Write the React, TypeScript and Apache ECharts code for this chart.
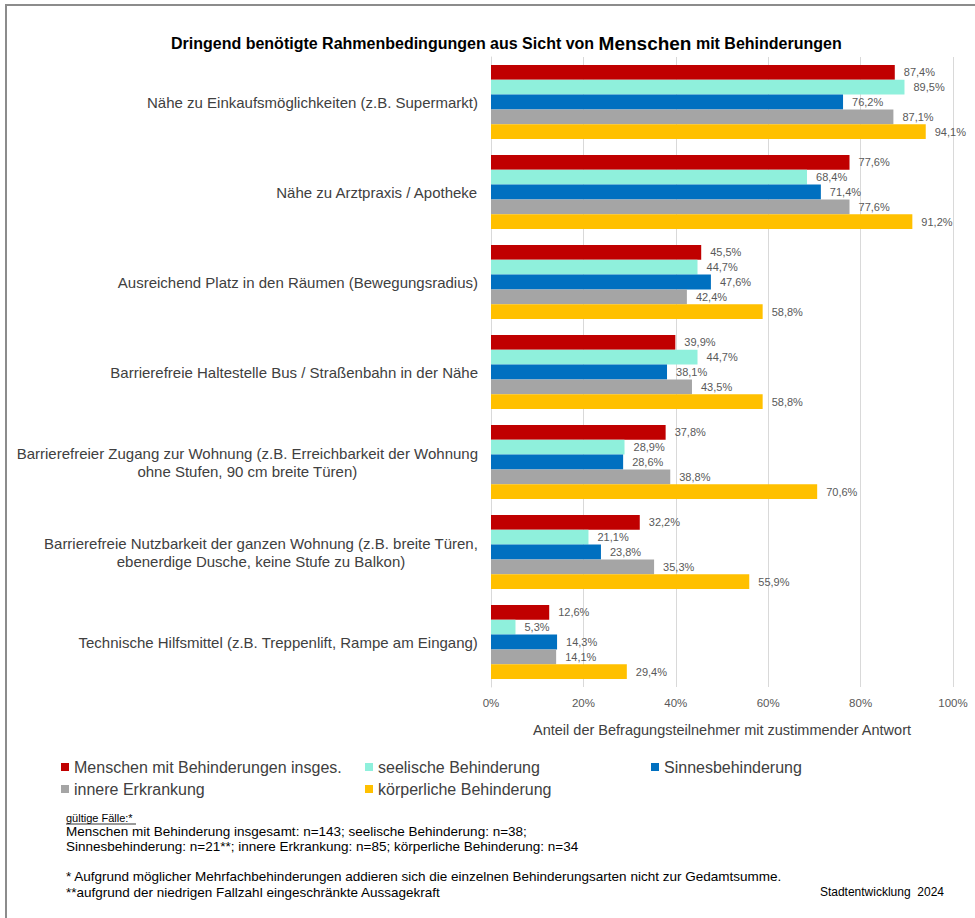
import React, { useEffect, useRef } from "react";
import * as echarts from "echarts";

const categories = [
  "Nähe zu Einkaufsmöglichkeiten (z.B. Supermarkt)",
  "Nähe zu Arztpraxis / Apotheke",
  "Ausreichend Platz in den Räumen (Bewegungsradius)",
  "Barrierefreie Haltestelle Bus / Straßenbahn in der Nähe",
  "Barrierefreier Zugang zur Wohnung (z.B. Erreichbarkeit der Wohnung\nohne Stufen, 90 cm breite Türen)",
  "Barrierefreie Nutzbarkeit der ganzen Wohnung (z.B. breite Türen,\nebenerdige Dusche, keine Stufe zu Balkon)",
  "Technische Hilfsmittel (z.B. Treppenlift, Rampe am Eingang)",
];

const seriesNames = [
  "Menschen mit Behinderungen insges.",
  "seelische Behinderung",
  "Sinnesbehinderung",
  "innere Erkrankung",
  "körperliche Behinderung",
];

const insgesamt = [87.4, 77.6, 45.5, 39.9, 37.8, 32.2, 12.6];
const seelisch = [89.5, 68.4, 44.7, 44.7, 28.9, 21.1, 5.3];
const sinnes = [76.2, 71.4, 47.6, 38.1, 28.6, 23.8, 14.3];
const innere = [87.1, 77.6, 42.4, 43.5, 38.8, 35.3, 14.1];
const koerperlich = [94.1, 91.2, 58.8, 58.8, 70.6, 55.9, 29.4];

const xTicks = [0, 20, 40, 60, 80, 100];

const colors = ["#C00000", "#8FF0DC", "#0070C0", "#A5A5A5", "#FFC000"];

const footLines = [
  "Menschen mit Behinderung insgesamt: n=143; seelische Behinderung: n=38;",
  "Sinnesbehinderung: n=21**; innere Erkrankung: n=85; körperliche Behinderung: n=34",
];
const noteLines = [
  "* Aufgrund möglicher Mehrfachbehinderungen addieren sich die einzelnen Behinderungsarten nicht zur Gedamtsumme.",
  "**aufgrund der niedrigen Fallzahl eingeschränkte Aussagekraft",
];

const FONT = "'Liberation Sans', Arial, sans-serif";

export default function App() {
  const ref = useRef<HTMLDivElement>(null);

  useEffect(() => {
    if (!ref.current) return;
    const chart = echarts.init(ref.current, undefined, { renderer: "svg" });
    const allData = [insgesamt, seelisch, sinnes, innere, koerperlich];

    const fmt = (v: number) => v.toFixed(1).replace(".", ",") + "%";

    const series = seriesNames.map((name, i) => ({
      name,
      type: "bar",
      data: allData[i],
      itemStyle: { color: colors[i] },
      barGap: "0%",
      barCategoryGap: "18%",
      label: {
        show: true,
        position: "right",
        distance: 9,
        color: "#595959",
        fontSize: 11,
        fontFamily: FONT,
        formatter: (p: any) => fmt(p.value),
      },
    }));

    const legendText = { color: "#404040", fontSize: 16, fontFamily: FONT };

    const option: any = {
      animation: false,
      backgroundColor: "#ffffff",
      textStyle: { fontFamily: FONT },
      title: {
        left: 166,
        top: 29,
        text: "{a|Dringend benötigte Rahmenbedingungen aus Sicht von }{b|Menschen}{a| mit Behinderungen}",
        textStyle: {
          rich: {
            a: { fontSize: 16, fontWeight: "bold", color: "#000000", fontFamily: FONT },
            b: { fontSize: 19, fontWeight: "bold", color: "#000000", fontFamily: FONT },
          },
        },
      },
      grid: { left: 491, right: 22, top: 57, bottom: 231, containLabel: false },
      xAxis: {
        type: "value",
        min: 0,
        max: 100,
        interval: 20,
        axisLine: { show: false },
        axisTick: { show: false },
        splitLine: { show: true, lineStyle: { color: "#D9D9D9", width: 1 } },
        axisLabel: {
          color: "#595959",
          fontSize: 11.5,
          margin: 10,
          formatter: (v: number) => (xTicks.includes(v) ? v + "%" : ""),
        },
        name: "Anteil der Befragungsteilnehmer mit zustimmender Antwort",
        nameLocation: "middle",
        nameGap: 35,
        nameTextStyle: { color: "#404040", fontSize: 14.5, fontFamily: FONT },
      },
      yAxis: {
        type: "category",
        data: categories,
        inverse: true,
        axisLine: { show: true, lineStyle: { color: "#D9D9D9" } },
        axisTick: { show: false },
        axisLabel: {
          margin: 13,
          color: "#404040",
          fontSize: 15,
          fontFamily: FONT,
          lineHeight: 18,
          formatter: (v: string) =>
            v
              .split("\n")
              .map((l) => "{c|" + l + "}")
              .join("\n"),
          rich: {
            c: { align: "center", fontSize: 15, color: "#404040", fontFamily: FONT, lineHeight: 18 },
          },
        },
      },
      legend: [
        {
          left: 56,
          top: 754,
          orient: "vertical",
          itemGap: 6,
          itemWidth: 8,
          itemHeight: 8,
          icon: "rect",
          data: [seriesNames[0], seriesNames[3]],
          textStyle: legendText,
        },
        {
          left: 360,
          top: 754,
          orient: "vertical",
          itemGap: 6,
          itemWidth: 8,
          itemHeight: 8,
          icon: "rect",
          data: [seriesNames[1], seriesNames[4]],
          textStyle: legendText,
        },
        {
          left: 646,
          top: 754,
          orient: "vertical",
          itemGap: 6,
          itemWidth: 8,
          itemHeight: 8,
          icon: "rect",
          data: [seriesNames[2]],
          textStyle: legendText,
        },
      ],
      graphic: [
        {
          type: "rect",
          shape: { x: 6, y: 5, width: 1200, height: 1200 },
          style: { fill: "none", stroke: "#8C8C8C", lineWidth: 2 },
          silent: true,
        },
        {
          type: "text",
          x: 66,
          y: 818,
          style: { text: "gültige Fälle:*", fontSize: 11, fill: "#000000", fontFamily: FONT, textVerticalAlign: "middle" },
        },
        {
          type: "line",
          shape: { x1: 66, y1: 824, x2: 136, y2: 824 },
          style: { stroke: "#000000", lineWidth: 0.8 },
        },
        ...footLines.map((t, i) => ({
          type: "text",
          x: 66,
          y: 831 + i * 15.5,
          style: { text: t, fontSize: 13.5, fill: "#000000", fontFamily: FONT, textVerticalAlign: "middle" },
        })),
        ...noteLines.map((t, i) => ({
          type: "text",
          x: 66,
          y: 876 + i * 16,
          style: { text: t, fontSize: 13.5, fill: "#000000", fontFamily: FONT, textVerticalAlign: "middle" },
        })),
        {
          type: "text",
          x: 944,
          y: 892,
          style: { text: "Stadtentwicklung  2024", fontSize: 12, fill: "#000000", fontFamily: FONT, textAlign: "right", textVerticalAlign: "middle" },
        },
      ],
      series,
    };

    chart.setOption(option);
    return () => chart.dispose();
  }, []);

  return (
    <div
      ref={ref}
      style={{ position: "absolute", left: 0, top: 0, width: 975, height: 918 }}
    />
  );
}
